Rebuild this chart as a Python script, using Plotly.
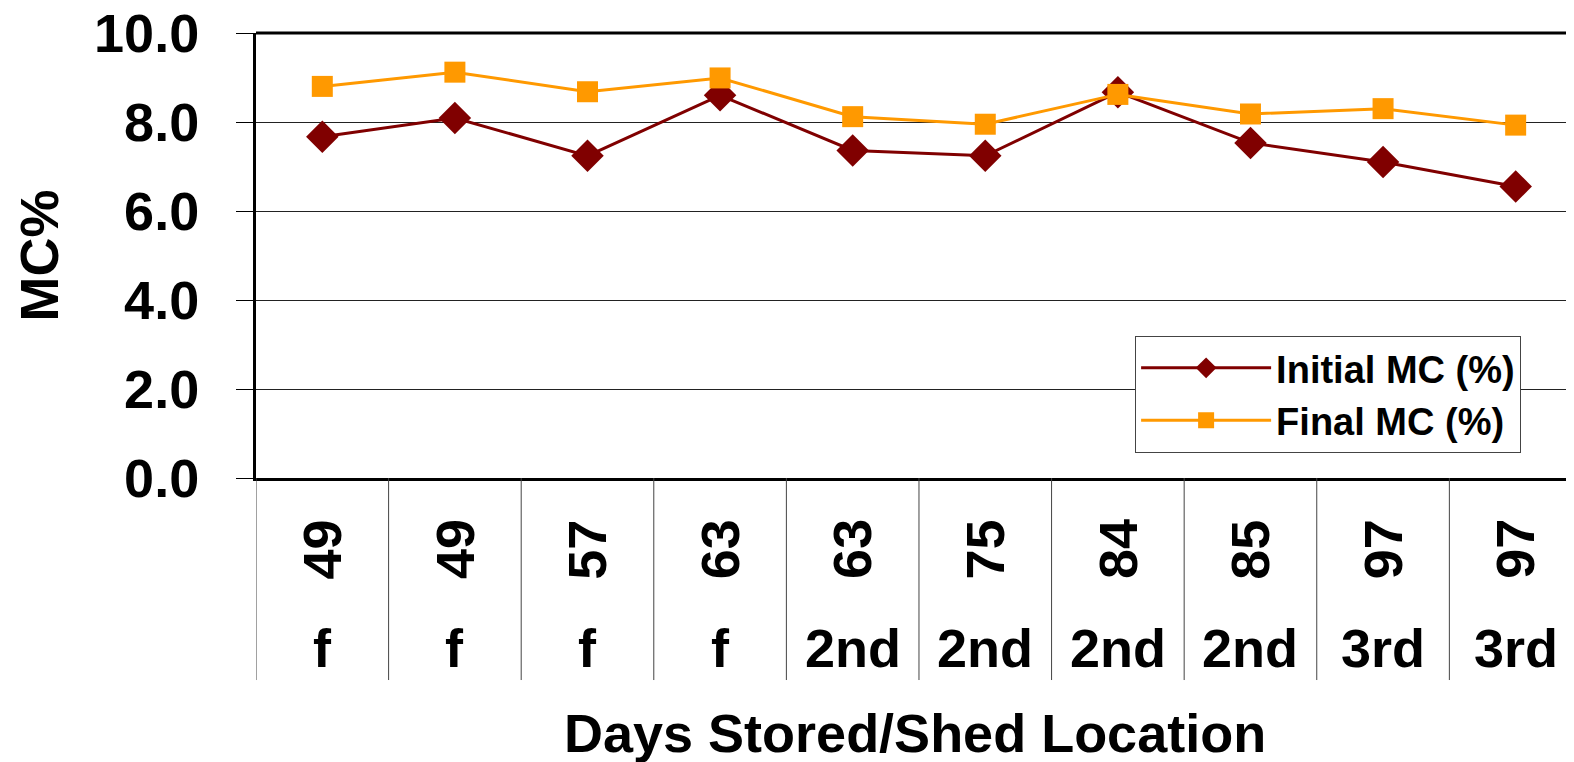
import plotly.graph_objects as go

# days stored / shed location for each sample
days = ["49", "49", "57", "63", "63", "75", "84", "85", "97", "97"]
location = ["f", "f", "f", "f", "2nd", "2nd", "2nd", "2nd", "3rd", "3rd"]

initial_mc = [7.67, 8.09, 7.24, 8.60, 7.36, 7.24, 8.67, 7.53, 7.10, 6.55]
final_mc = [8.80, 9.12, 8.68, 8.99, 8.12, 7.95, 8.62, 8.18, 8.30, 7.93]

y_ticks = [0, 2, 4, 6, 8, 10]

FONT = "Arial, 'Liberation Sans', sans-serif"
idx = list(range(len(days)))

fig = go.Figure()

fig.add_trace(go.Scatter(
    x=idx, y=initial_mc, mode="lines+markers", name="Initial MC (%)",
    line=dict(color="#800000", width=3),
    marker=dict(symbol="diamond", size=25, color="#800000"),
))
fig.add_trace(go.Scatter(
    x=idx, y=final_mc, mode="lines+markers", name="Final MC (%)",
    line=dict(color="#FF9900", width=3),
    marker=dict(symbol="square", size=21, color="#FF9900"),
))

big = dict(size=54, family=FONT, weight="bold", color="black")

# category labels under the axis: rotated days, then location
annotations = []
for i, (d, loc) in enumerate(zip(days, location)):
    annotations.append(dict(x=i, xref="x", y=-0.16, yref="paper", text=d,
                            textangle=-90, showarrow=False,
                            xanchor="center", yanchor="middle", font=big))
    annotations.append(dict(x=i, xref="x", y=-0.382, yref="paper", text=loc,
                            showarrow=False, xanchor="center", yanchor="middle",
                            font=big))

annotations.append(dict(x=0.5, xref="paper", y=-0.573, yref="paper",
                        text="Days Stored/Shed Location", showarrow=False,
                        xanchor="center", yanchor="middle", font=big))
annotations.append(dict(x=-0.1654, xref="paper", y=0.5, yref="paper",
                        text="MC%", textangle=-90, showarrow=False,
                        xanchor="center", yanchor="middle", font=big))

# vertical separators between categories
shapes = []
for i in range(len(days)):
    shapes.append(dict(type="line", xref="x", yref="paper", x0=i - 0.5, x1=i - 0.5,
                       y0=0, y1=-0.454, line=dict(color="#444", width=1)))
# heavy top border of the plot area
shapes.append(dict(type="line", xref="paper", yref="paper", x0=0, x1=1, y0=1, y1=1,
                   line=dict(color="black", width=3)))

fig.update_layout(
    width=1574, height=762,
    margin=dict(l=248, r=8, t=25, b=292, autoexpand=False),
    plot_bgcolor="white", paper_bgcolor="white",
    font=dict(family=FONT, color="black"),
    showlegend=True,
    legend=dict(x=0.667, y=0.320, xanchor="left", yanchor="top",
                bgcolor="white", bordercolor="#444", borderwidth=1,
                font=dict(size=38, family=FONT, weight="bold", color="black"),
                itemwidth=130),
    annotations=annotations,
    shapes=shapes,
)

fig.update_xaxes(range=[-0.5, 9.44], showticklabels=False, showgrid=False,
                 zeroline=False, showline=True, linecolor="black", linewidth=3,
                 ticks="", automargin=False)
fig.update_yaxes(range=[0, 10], tickvals=y_ticks, tickformat=".1f",
                 showgrid=True, gridcolor="#222", gridwidth=1, zeroline=False,
                 showline=True, linecolor="black", linewidth=3,
                 ticks="outside", ticklen=17, tickcolor="black", tickwidth=1,
                 ticklabelstandoff=26, ticklabeloverflow="allow", automargin=False,
                 tickfont=big)

fig.write_html("out.html")
